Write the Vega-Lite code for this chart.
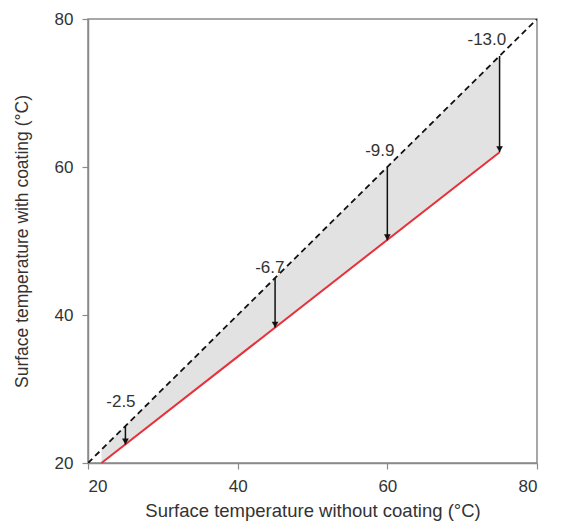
{
  "$schema": "https://vega.github.io/schema/vega-lite/v6.json",
  "width": 449,
  "height": 444,
  "autosize": "none",
  "padding": {"left": 88, "top": 19, "right": 24, "bottom": 62},
  "background": "white",
  "config": {
    "view": {"stroke": "#8a8a8a", "strokeWidth": 1.5},
    "font": "Liberation Sans",
    "axis": {
      "grid": false,
      "domainColor": "#8a8a8a",
      "domainWidth": 1.5,
      "tickColor": "#8a8a8a",
      "tickWidth": 1.2,
      "tickSize": 6,
      "labelFontSize": 17,
      "labelColor": "#333333",
      "titleFontSize": 17.5,
      "titleFontWeight": "normal",
      "titleColor": "#333333"
    }
  },
  "datasets": {
    "diag": [{"x": 20, "y": 20}, {"x": 80, "y": 80}],
    "band": [{"x": 21.8, "top": 21.8, "bottom": 20}, {"x": 75, "top": 75, "bottom": 62}],
    "red": [{"x": 21.8, "y": 20}, {"x": 75, "y": 62}],
    "arrows": [
      {"x": 25, "from": 25, "to": 22.5},
      {"x": 45, "from": 45, "to": 38.3},
      {"x": 60, "from": 60, "to": 50.1},
      {"x": 75, "from": 75, "to": 62}
    ],
    "labels": [
      {"x": 24.4, "y": 28.2, "text": "-2.5"},
      {"x": 44.3, "y": 46.4, "text": "-6.7"},
      {"x": 59.0, "y": 62.2, "text": "-9.9"},
      {"x": 73.3, "y": 77.2, "text": "-13.0"}
    ]
  },
  "layer": [
    {
      "data": {"name": "band"},
      "mark": {"type": "area", "color": "#e2e2e2", "opacity": 1},
      "encoding": {
        "x": {"field": "x", "type": "quantitative", "scale": {"domain": [20, 80], "nice": false},
              "axis": {"values": [20, 40, 60, 80], "title": "Surface temperature without coating (°C)", "titleFontSize": 18.5, "titlePadding": 7, "labelPadding": 9}},
        "y": {"field": "top", "type": "quantitative", "scale": {"domain": [20, 80], "nice": false},
              "axis": {"values": [20, 40, 60, 80], "title": "Surface temperature with coating (°C)", "titlePadding": 23, "labelPadding": 9}},
        "y2": {"field": "bottom"}
      }
    },
    {
      "data": {"name": "diag"},
      "mark": {"type": "line", "color": "#111111", "strokeDash": [6, 4], "strokeWidth": 1.8, "clip": true},
      "encoding": {
        "x": {"field": "x", "type": "quantitative"},
        "y": {"field": "y", "type": "quantitative"}
      }
    },
    {
      "data": {"name": "red"},
      "mark": {"type": "line", "color": "#e8303a", "strokeWidth": 2},
      "encoding": {
        "x": {"field": "x", "type": "quantitative"},
        "y": {"field": "y", "type": "quantitative"}
      }
    },
    {
      "data": {"name": "arrows"},
      "mark": {"type": "rule", "color": "#111111", "strokeWidth": 1.5},
      "encoding": {
        "x": {"field": "x", "type": "quantitative"},
        "y": {"field": "from", "type": "quantitative"},
        "y2": {"field": "to"}
      }
    },
    {
      "data": {"name": "arrows"},
      "mark": {"type": "point", "shape": "triangle-down", "filled": true, "color": "#111111", "opacity": 1, "size": 45, "yOffset": -3},
      "encoding": {
        "x": {"field": "x", "type": "quantitative"},
        "y": {"field": "to", "type": "quantitative"}
      }
    },
    {
      "data": {"name": "labels"},
      "mark": {"type": "text", "fontSize": 17, "color": "#333333", "align": "center", "baseline": "middle"},
      "encoding": {
        "x": {"field": "x", "type": "quantitative"},
        "y": {"field": "y", "type": "quantitative"},
        "text": {"field": "text"}
      }
    }
  ]
}
